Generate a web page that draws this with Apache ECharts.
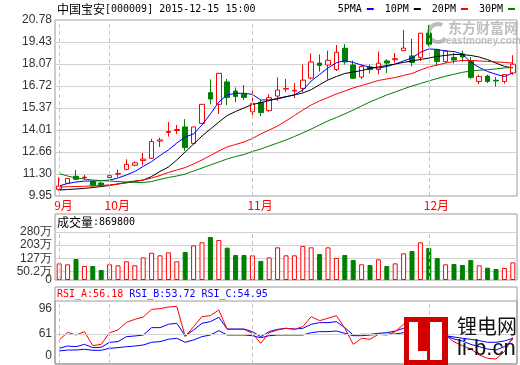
<!DOCTYPE html>
<html><head><meta charset="utf-8">
<script src="https://cdn.jsdelivr.net/npm/echarts@6/dist/echarts.min.js"></script>
<style>html,body{margin:0;padding:0;background:#fff}#c{width:520px;height:365px}</style>
</head><body><div id="c"></div>
<script>
const dates = ['2015-09-23','2015-09-24','2015-09-25','2015-09-28','2015-09-29','2015-09-30',
'2015-10-08','2015-10-09','2015-10-12','2015-10-13','2015-10-14','2015-10-15','2015-10-16','2015-10-19','2015-10-20','2015-10-21','2015-10-22','2015-10-23','2015-10-26','2015-10-27','2015-10-28','2015-10-29','2015-10-30',
'2015-11-02','2015-11-03','2015-11-04','2015-11-05','2015-11-06','2015-11-09','2015-11-10','2015-11-11','2015-11-12','2015-11-13','2015-11-16','2015-11-17','2015-11-18','2015-11-19','2015-11-20','2015-11-23','2015-11-24','2015-11-25','2015-11-26','2015-11-27','2015-11-30',
'2015-12-01','2015-12-02','2015-12-03','2015-12-04','2015-12-07','2015-12-08','2015-12-09','2015-12-10','2015-12-11','2015-12-14','2015-12-15'];
const opens  = [10.36,10.73,11.16,11.09,10.83,10.75,11.09,11.30,11.59,11.84,12.13,12.27,13.33,13.86,13.98,14.20,13.19,14.42,16.31,15.59,16.97,16.41,16.23,15.14,15.72,15.20,16.10,16.53,16.41,16.57,17.21,18.13,18.01,17.73,19.04,18.01,17.27,17.89,17.73,18.26,18.34,18.89,18.57,18.48,19.97,18.95,18.23,18.48,18.69,18.24,17.00,17.33,17.07,17.00,17.52];
const closes = [10.56,11.03,10.98,11.11,10.59,10.63,11.20,11.33,11.90,11.99,12.22,13.30,13.40,13.92,14.04,12.93,14.20,15.59,15.92,17.50,16.01,16.07,16.01,15.65,15.08,16.00,16.47,16.57,16.46,17.08,18.20,17.98,18.30,18.79,18.20,17.20,17.92,17.73,18.12,18.13,18.40,19.05,18.17,19.97,19.29,18.23,18.88,18.32,18.50,17.25,17.30,17.00,17.03,17.43,18.06];
const lows   = [10.28,10.69,10.93,10.93,10.52,10.55,10.97,11.12,11.53,11.78,11.83,12.23,12.97,13.60,13.77,12.72,13.12,14.38,15.59,15.00,15.55,15.73,15.86,14.69,14.87,15.14,15.80,16.35,15.98,16.35,17.12,17.60,17.12,17.64,18.04,17.15,17.15,17.50,17.43,17.52,18.16,18.87,17.92,18.26,19.15,17.95,18.13,18.10,18.20,17.15,16.84,16.90,16.69,16.87,17.41];
const highs  = [11.10,11.06,11.55,11.24,10.90,10.82,11.43,11.58,12.21,12.08,12.60,13.47,13.54,14.50,14.32,14.68,14.23,15.61,17.13,17.52,17.15,16.63,16.78,16.47,15.86,16.21,17.25,17.15,16.90,18.04,18.72,18.66,18.90,19.24,19.30,18.28,18.04,18.04,18.84,18.37,18.75,20.17,19.63,19.98,20.47,19.01,18.94,18.75,18.89,18.50,17.41,17.41,17.27,17.46,18.61];
const ma5  = [10.57,10.72,10.81,10.87,10.87,10.89,10.93,11.06,11.24,11.46,11.77,12.07,12.44,12.78,13.21,13.58,13.77,14.32,15.00,15.73,16.17,16.27,16.27,16.20,15.86,15.86,15.92,16.06,16.17,16.47,17.02,17.43,17.83,18.15,18.28,18.17,18.01,17.88,17.82,17.92,18.07,18.26,18.44,18.79,19.00,18.97,18.87,18.84,18.69,18.18,17.86,17.61,17.44,17.30,17.52];
const ma10 = [10.32,10.35,10.38,10.42,10.47,10.53,10.60,10.69,10.79,10.87,10.93,11.15,11.46,11.73,12.17,12.66,13.15,13.64,14.07,14.50,14.90,15.15,15.37,15.58,15.69,15.82,15.96,16.06,16.17,16.29,16.49,16.80,17.09,17.30,17.49,17.58,17.67,17.80,17.89,17.98,18.07,18.17,18.26,18.35,18.44,18.54,18.60,18.66,18.65,18.60,18.50,18.34,18.13,17.93,17.83];
const ma20 = [10.50,10.52,10.53,10.55,10.57,10.60,10.63,10.69,10.75,10.84,10.93,11.06,11.21,11.40,11.55,11.70,11.92,12.17,12.44,12.72,12.97,13.12,13.27,13.49,13.77,14.01,14.26,14.57,14.90,15.24,15.55,15.80,16.01,16.23,16.41,16.60,16.75,16.90,17.06,17.15,17.24,17.37,17.49,17.70,17.89,18.01,18.13,18.23,18.29,18.29,18.26,18.23,18.20,18.17,18.13];
const ma30 = [11.33,11.18,11.06,11.00,10.93,10.90,10.87,10.84,10.81,10.79,10.78,10.84,10.97,11.09,11.18,11.30,11.49,11.67,11.86,12.04,12.23,12.38,12.50,12.69,12.84,13.03,13.21,13.40,13.61,13.83,14.07,14.32,14.57,14.78,15.00,15.24,15.49,15.74,15.95,16.17,16.35,16.54,16.72,16.87,17.03,17.18,17.32,17.44,17.56,17.64,17.69,17.72,17.77,17.83,17.86];
const volumes = [97,91.5,122.5,81.7,81.7,58.3,91.5,85.6,109,85.6,132,159,144,161.4,109,163,202,220,251,233,188.5,146,146,144,111,132,190.5,144,144,198,190.5,151.7,190.5,128,146,117,91.5,87.5,120.5,81.7,97,155.6,169,220,186.7,128,91.5,93.3,87.5,117,85.6,71.8,64.2,70,103];
const rsiA = [52.6,63.3,59.6,64.3,44.7,46.5,62.9,66.6,77.3,81.5,84.8,95.5,96.5,98.8,99.6,57.3,71.3,85.3,86.7,94.6,67.5,67.5,67.5,62,48,62.9,66.6,69,67.5,71.3,85.3,79.7,83,86.7,69,46.5,55,53.6,60.5,59.6,64.3,74.6,66,80,70,55,59,50,44.7,40,31.6,27,26,36.2,56.18];
const rsiB = [41,44.2,43.2,46.5,41.9,42.4,49.4,50.3,57.3,58.2,59.6,69.9,69.9,74.6,76,58.6,66.6,76,78.3,84.4,68,68,68,64.3,57.3,64.3,67.5,69,68,68.9,74.6,76.9,76.9,78.3,69.9,59.6,60.5,60.5,62,62.9,65.2,69,65.7,71,67,57.3,58.6,54,51.2,46.5,43.2,40,38.6,43.2,53.72];
const rsiC = [37.2,38.6,38.6,39.6,38.2,38.2,41,41.9,43.2,44.2,45.6,49.4,50.3,53.6,55,49.4,52.7,57.3,59.6,65.7,59.6,59.6,59.6,58.6,55.8,58.6,59.6,59.6,59.6,59.6,62.9,64.3,64.3,65.2,62,58.6,58.6,59.6,60.5,60.5,61,62.9,61.4,64.3,62.9,58.2,58.6,56.8,55,53.6,51.7,49.4,49.4,51.2,54.95];
const priceTicks = [9.95,11.30,12.66,14.01,15.37,16.72,18.07,19.43,20.78];
const volTicks = [50.2,126.8,203.4,280];
const volTickLabels = ['50.2万','127万','203万','280万'];
const volZeroTick = [0];
const volZeroLabel = '0';
const rsiTicks = [30.2,61,96];
const rsiTickLabels = ['0','61','96'];
const maNames = ['5PMA','10PM','20PM','30PM'];
const stockTitle = '中国宝安';
const stockInfo = '[000009] 2015-12-15 15:00';
const volTitleValue = '869800';

const RED = '#ff0000', GREEN = '#008000', BLUE = '#0000ff';
const FRAME = '#9a9a9a', GRIDC = '#d2d2d2', DASH = '#c4c4c4';
const MONO = 'DejaVu Sans Mono', CJK = 'Noto Sans CJK SC', SANS = 'Liberation Sans';

const isMonthStart = i => i === 0 || dates[i].slice(5, 7) !== dates[i - 1].slice(5, 7);
const monthStarts = dates.filter((d, i) => isMonthStart(i));
const candleData = dates.map((d, i) => [opens[i], closes[i], lows[i], highs[i]]);
const volData = volumes.map((v, i) => ({
  value: v,
  itemStyle: closes[i] >= opens[i]
    ? { color: '#fff', borderColor: RED, borderWidth: 1 }
    : { color: GREEN, borderColor: GREEN, borderWidth: 1 }
}));
const nearestLabel = (ticks, labels, v) => {
  let best = 0;
  ticks.forEach((t, i) => { if (Math.abs(t - v) < Math.abs(ticks[best] - v)) best = i; });
  return labels[best];
};
const monthLines = extra => ({
  symbol: 'none', silent: true, animation: false,
  label: { show: false }, emphasis: { disabled: true },
  lineStyle: { color: DASH, type: [4, 3], width: 1 },
  data: monthStarts.map(d => ({ xAxis: d })).concat(extra || [])
});

const L = 55, W = 462;
const baseX = gi => ({
  type: 'category', gridIndex: gi, data: dates, boundaryGap: true,
  axisLine: { show: false }, axisTick: { show: false },
  splitLine: { show: false }, axisLabel: { show: false }
});
const yLabel = { color: '#333', fontFamily: SANS, fontSize: 12, margin: 3, showMinLabel: true, showMaxLabel: true, hideOverlap: false };

const chart = echarts.init(document.getElementById('c'), null, { renderer: 'canvas' });
chart.setOption({
  animation: false,
  backgroundColor: '#fff',
  grid: [
    { left: L, top: 20, width: W, height: 176, show: true, borderColor: FRAME, borderWidth: 1, backgroundColor: 'transparent', outerBoundsMode: 'none' },
    { left: L, top: 232, width: W, height: 48, show: false, outerBoundsMode: 'none' },
    { left: L, top: 301, width: W, height: 63, show: true, borderColor: FRAME, borderWidth: 1, backgroundColor: 'transparent', outerBoundsMode: 'none' },
    { left: L, top: 214, width: W, height: 66, show: true, borderColor: FRAME, borderWidth: 1, backgroundColor: 'transparent', outerBoundsMode: 'none' },
    { left: L, top: 287, width: W, height: 77, show: true, borderColor: FRAME, borderWidth: 1, backgroundColor: 'transparent', outerBoundsMode: 'none' }
  ],
  legend: {
    data: maNames, right: 5, top: 4, padding: 0, align: 'right', icon: 'rect',
    itemWidth: 7, itemHeight: 2, itemGap: 11, selectedMode: false,
    textStyle: { fontFamily: MONO, fontSize: 10, color: '#000' }
  },
  xAxis: [
    Object.assign(baseX(0), {
      axisLabel: {
        show: true, interval: i => isMonthStart(i), margin: 3,
        formatter: v => '{m|' + parseInt(v.slice(5, 7), 10) + '月}',
        rich: { m: { width: 10, align: 'left', color: RED, fontFamily: CJK, fontSize: 12 } }
      }
    }),
    baseX(1), baseX(2)
  ],
  yAxis: [
    {
      type: 'value', gridIndex: 0, min: 9.95, max: 20.78,
      axisLine: { show: false }, axisTick: { show: false, customValues: priceTicks },
      axisLabel: Object.assign({ customValues: priceTicks, formatter: v => v.toFixed(2) }, yLabel),
      splitLine: { show: true, lineStyle: { color: GRIDC, width: 1 } }
    },
    {
      type: 'value', gridIndex: 1, min: 0, max: 280, position: 'left',
      axisLine: { show: false }, axisTick: { show: false, customValues: volTicks },
      axisLabel: Object.assign({ customValues: volTicks, formatter: v => nearestLabel(volTicks, volTickLabels, v) }, yLabel),
      splitLine: { show: true, lineStyle: { color: GRIDC, width: 1 } }
    },
    {
      type: 'value', gridIndex: 2, min: 19, max: 107.2,
      axisLine: { show: false }, axisTick: { show: false, customValues: rsiTicks },
      axisLabel: Object.assign({ customValues: rsiTicks, formatter: v => nearestLabel(rsiTicks, rsiTickLabels, v) }, yLabel),
      splitLine: { show: false }
    },
    {
      type: 'value', gridIndex: 1, min: 0, max: 280, position: 'left', offset: 0,
      axisLine: { show: false }, axisTick: { show: false, customValues: volZeroTick },
      axisLabel: Object.assign({ customValues: volZeroTick, formatter: () => volZeroLabel }, yLabel),
      splitLine: { show: false }
    }
  ],
  series: [
    {
      type: 'candlestick', name: 'K', xAxisIndex: 0, yAxisIndex: 0, data: candleData, barWidth: 5,
      itemStyle: { color: '#fff', color0: GREEN, borderColor: RED, borderColor0: GREEN, borderWidth: 1 },
      emphasis: { disabled: true }, markLine: monthLines(), z: 2
    },
    { type: 'line', name: maNames[0], data: ma5, xAxisIndex: 0, yAxisIndex: 0, symbol: 'none', color: BLUE, lineStyle: { width: 1, color: BLUE }, z: 3, emphasis: { disabled: true } },
    { type: 'line', name: maNames[1], data: ma10, xAxisIndex: 0, yAxisIndex: 0, symbol: 'none', color: '#000', lineStyle: { width: 1, color: '#000' }, z: 3, emphasis: { disabled: true } },
    { type: 'line', name: maNames[2], data: ma20, xAxisIndex: 0, yAxisIndex: 0, symbol: 'none', color: RED, lineStyle: { width: 1, color: RED }, z: 3, emphasis: { disabled: true } },
    { type: 'line', name: maNames[3], data: ma30, xAxisIndex: 0, yAxisIndex: 0, symbol: 'none', color: GREEN, lineStyle: { width: 1, color: GREEN }, z: 3, emphasis: { disabled: true } },
    {
      type: 'bar', name: 'VOL', xAxisIndex: 1, yAxisIndex: 1, data: volData, barWidth: 5,
      emphasis: { disabled: true }, markLine: monthLines()
    },
    {
      type: 'line', name: 'RSI_A', data: rsiA, xAxisIndex: 2, yAxisIndex: 2, symbol: 'none',
      lineStyle: { width: 1, color: RED }, z: 4, emphasis: { disabled: true },
      markLine: monthLines([{ yAxis: 61, lineStyle: { type: 'solid', color: GRIDC } }])
    },
    { type: 'line', name: 'RSI_B', data: rsiB, xAxisIndex: 2, yAxisIndex: 2, symbol: 'none', lineStyle: { width: 1, color: BLUE }, z: 3, emphasis: { disabled: true } },
    { type: 'line', name: 'RSI_C', data: rsiC, xAxisIndex: 2, yAxisIndex: 2, symbol: 'none', lineStyle: { width: 1, color: BLUE }, z: 3, emphasis: { disabled: true } }
  ],
  graphic: [
    {
      type: 'text', left: 57, top: 3, z: 10,
      style: {
        text: '{c|' + stockTitle + '}{a|' + stockInfo + '}',
        rich: { c: { fontFamily: CJK, fontSize: 12, fill: '#000' }, a: { fontFamily: MONO, fontSize: 10, fill: '#000' } }
      }
    },
    {
      type: 'text', left: 57, top: 216, z: 10,
      style: {
        text: '{c|成交量}{a|:' + volTitleValue + '}',
        rich: { c: { fontFamily: CJK, fontSize: 12, fill: '#000' }, a: { fontFamily: MONO, fontSize: 10, fill: '#000' } }
      }
    },
    {
      type: 'text', left: 57, top: 289, z: 10,
      style: {
        text: '{r|RSI_A:' + rsiA[rsiA.length - 1].toFixed(2) + '} {b|RSI_B:' + rsiB[rsiB.length - 1].toFixed(2) + '} {b|RSI_C:' + rsiC[rsiC.length - 1].toFixed(2) + '}',
        rich: { r: { fontFamily: MONO, fontSize: 10, fill: RED }, b: { fontFamily: MONO, fontSize: 10, fill: BLUE } },
        fontFamily: MONO, fontSize: 10
      }
    },
    { type: 'arc', z: 1, shape: { cx: 438, cy: 33, r: 9, startAngle: 0.6, endAngle: 5.2 }, style: { stroke: 'rgba(160,160,160,0.7)', lineWidth: 4, fill: null } },
    { type: 'text', left: 448, top: 21, z: 1, style: { text: '东方财富网', fontFamily: CJK, fontSize: 14, fontWeight: 'bold', fill: 'rgba(170,170,170,0.75)' } },
    { type: 'text', left: 446, top: 36, z: 1, style: { text: 'eastmoney.com', fontFamily: SANS, fontSize: 10, fontWeight: 'bold', fill: 'rgba(170,170,170,0.75)' } },
    { type: 'rect', z: 100, shape: { x: 404, y: 317, width: 44, height: 48 }, style: { fill: '#d40000' } },
    { type: 'rect', z: 101, shape: { x: 409, y: 322, width: 9, height: 38 }, style: { fill: '#fff' } },
    { type: 'rect', z: 101, shape: { x: 409, y: 351, width: 18, height: 9 }, style: { fill: '#fff' } },
    { type: 'rect', z: 101, shape: { x: 430, y: 322, width: 12, height: 38 }, style: { fill: '#fff' } },
    { type: 'text', left: 457, top: 316, z: 100, style: { text: '锂电网', fontFamily: CJK, fontSize: 20, fill: '#111' } },
    { type: 'text', left: 457, top: 338, z: 100, style: { text: 'li-b.cn', fontFamily: SANS, fontSize: 22, fill: '#111' } }
  ]
});
</script>
</body></html>
